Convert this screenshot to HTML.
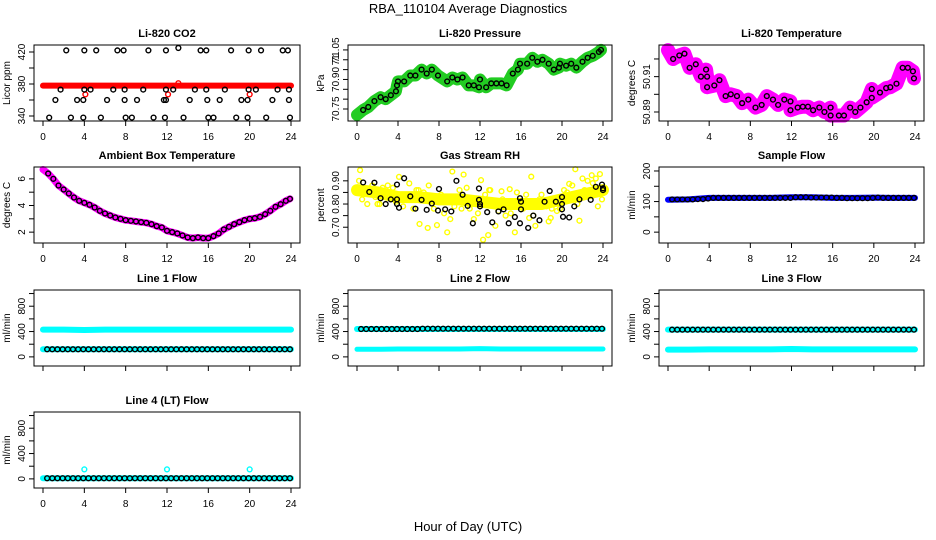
<!DOCTYPE html>
<html><head><meta charset="utf-8"><style>
html,body{margin:0;padding:0;background:#fff;}
svg{display:block;font-family:"Liberation Sans",sans-serif;}
</style></head><body>
<svg id="fig" width="936" height="540" viewBox="0 0 936 540">
<text x="468" y="13" text-anchor="middle" font-size="13">RBA_110104  Average Diagnostics</text>
<text x="468" y="531" text-anchor="middle" font-size="13">Hour of Day (UTC)</text>
</svg>
<script>
// ---------- data ----------
const xTicks = [0,4,8,12,16,20,24];
const H48 = [0.4,0.9,1.4,1.9,2.4,2.9,3.4,3.9,4.4,4.9,5.4,5.9,6.4,6.9,7.4,7.9,8.4,8.9,9.4,9.9,10.4,10.9,11.4,11.9,12.4,12.9,13.4,13.9,14.4,14.9,15.4,15.9,16.4,16.9,17.4,17.9,18.4,18.9,19.4,19.9,20.4,20.9,21.4,21.9,22.4,22.9,23.4,23.9];
const HB = [0,2,4,6,8,10,12,14,16,18,20,22,24];

// CO2
const co2BandV = [378,378,378,378,378,378,378,378,378,378,378,378,378];
const co2H = [2.25,4,5.15,7.2,7.8,10.2,11.9,13.1,15.25,15.8,18.2,19.9,21.1,23.2,23.7, 1.7,4,4.6,6.8,7.9,9.7,11.9,12.6,14.7,15.8,17.6,19.9,20.6,22.7,23.8, 1.2,3.3,3.9,6.2,7.9,9.1,11.7,11.9,14.2,15.9,17.1,19.2,19.8,22.2,23.8, 0.6,2.7,3.9,5.6,8,8.6,10.7,11.8,13.6,16,16.5,18.7,19.8,21.6,23.9];
const co2V = [422,422,422,422,422,422,422,425,422,422,422,422,422,422,422, 373,373,373,373,373,373,373,373,373,373,373,373,373,373,373, 360,360,360,360,360,360,360,360,360,360,360,360,360,360,360, 338,338,338,338,338,338,338,338,338,338,338,338,338,338,338];
const co2RedH = [4.1,12.1,13.1,20];
const co2RedV = [367,367,381,367];

// Pressure
const presH = [0.6,1.1,1.7,2.3,2.8,3.3,3.8,3.9,4.0,4.6,5.2,5.7,6.3,6.8,7.3,7.9,8.8,9.3,9.8,10.3,10.9,11.4,11.9,12.0,12.6,13.1,13.6,14.1,14.6,15.2,15.7,15.9,16.6,17.1,17.6,18.1,18.7,19.2,19.7,19.8,20.4,20.9,21.4,22.0,22.5,23.0,23.6,23.8];
const presV = [70.745,70.76,70.79,70.81,70.80,70.82,70.84,70.87,70.89,70.89,70.92,70.92,70.95,70.93,70.95,70.92,70.89,70.91,70.90,70.91,70.87,70.87,70.86,70.90,70.86,70.88,70.88,70.88,70.87,70.93,70.95,70.98,70.98,71.01,70.99,71.00,70.98,70.95,70.96,70.98,70.97,70.98,70.96,70.99,71.01,71.02,71.04,71.05];

// Li-820 temperature
const tempH = [0.5,1.1,1.6,2.1,2.7,3.2,3.8,3.7,3.8,4.5,5.0,5.6,6.1,6.7,7.2,7.8,8.5,9.1,9.6,10.2,10.7,11.3,11.9,11.9,12.6,13.1,13.6,14.1,14.7,15.2,15.8,15.8,16.6,17.1,17.7,18.2,18.7,19.3,19.8,19.8,20.6,21.2,21.6,22.2,22.8,23.3,23.8,23.9];
const tempV = [50.920,50.922,50.923,50.915,50.917,50.910,50.910,50.914,50.904,50.905,50.908,50.899,50.900,50.899,50.895,50.897,50.8925,50.894,50.899,50.897,50.894,50.897,50.896,50.891,50.8925,50.893,50.893,50.891,50.8925,50.890,50.8925,50.888,50.888,50.888,50.8925,50.890,50.8925,50.8955,50.903,50.898,50.901,50.9035,50.904,50.906,50.915,50.915,50.913,50.909];

// Ambient box temperature
const ambH = [0,0.5,1,1.5,2,2.5,3,3.5,4,4.5,5,5.5,6,6.5,7,7.5,8,8.5,9,9.5,10,10.5,11,11.5,12,12.5,13,13.5,14,14.5,15,15.5,16,16.5,17,17.5,18,18.5,19,19.5,20,20.5,21,21.5,22,22.5,23,23.5,23.9];
const ambV = [6.7,6.4,6.0,5.5,5.2,4.9,4.6,4.35,4.2,4.05,3.85,3.6,3.4,3.25,3.1,3.0,2.9,2.85,2.8,2.75,2.7,2.6,2.45,2.35,2.1,2.0,1.9,1.75,1.6,1.55,1.6,1.55,1.55,1.7,1.9,2.2,2.4,2.6,2.75,2.9,3.0,3.05,3.15,3.35,3.6,3.9,4.1,4.35,4.5];

// Gas stream RH
const rhBandV = [0.86,0.85,0.83,0.83,0.82,0.82,0.81,0.80,0.80,0.80,0.82,0.84,0.86];
const rhH = [0.6,1.2,1.7,2.3,2.8,3.3,3.9,3.9,3.9,4.1,4.6,5.2,5.7,6.3,6.8,7.3,7.9,8.0,8.6,9.2,9.7,10.3,10.8,11.3,11.9,11.9,12.0,12.0,12.7,13.2,13.8,14.3,14.8,15.4,15.9,16.0,16.0,15.9,16.7,17.2,17.8,18.3,18.8,19.4,20.0,20.0,20.0,20.1,20.7,21.2,21.7,22.8,23.3,23.9,24,24];
const rhV = [0.893,0.852,0.892,0.825,0.80,0.82,0.884,0.82,0.80,0.784,0.911,0.833,0.78,0.818,0.775,0.802,0.772,0.865,0.777,0.768,0.90,0.84,0.792,0.717,0.867,0.818,0.80,0.79,0.765,0.721,0.768,0.777,0.717,0.744,0.825,0.81,0.777,0.717,0.697,0.75,0.73,0.81,0.856,0.81,0.83,0.80,0.777,0.745,0.742,0.79,0.82,0.818,0.874,0.884,0.868,0.86];
const rhYH = [0.3,2.5,4.1,5.1,6.1,6.9,7.8,8.8,9.3,10.4,12.1,12.3,12.8,14.1,14.9,15.4,17.0,17.4,18.9,20.7,21.3,22.0,21.7,22.9,23.7,23.5,9.1,11.4,13.5,18.7,0.2,1.0,3.0,5.5,7.0,8.5,10.0,11.0,13.0,15.0,16.5,19.5,21.0,22.5,23.9,2.0,6.5,9.5,14.5,17.8,20.2,23.0,0.5,1.5,2.2,3.5,4.5,6.0,7.5,8.2,10.7,11.8,12.5,13.8,15.6,16.2,17.2,18.0,19.0,20.5,21.5,22.2,23.3,1.8,3.8,5.8,7.2,9.0,10.2,12.9,14.2,16.8,18.5,19.8,22.7];
const rhYV = [0.946,0.87,0.917,0.889,0.714,0.697,0.709,0.678,0.94,0.927,0.903,0.646,0.666,0.855,0.864,0.678,0.918,0.706,0.74,0.887,0.95,0.91,0.728,0.924,0.929,0.79,0.735,0.735,0.706,0.725,0.90,0.80,0.88,0.78,0.88,0.76,0.86,0.78,0.86,0.76,0.84,0.77,0.88,0.90,0.82,0.80,0.85,0.79,0.75,0.82,0.86,0.89,0.82,0.88,0.80,0.87,0.79,0.86,0.78,0.84,0.87,0.76,0.84,0.77,0.85,0.78,0.75,0.84,0.78,0.85,0.80,0.86,0.91,0.83,0.81,0.86,0.83,0.81,0.78,0.86,0.82,0.74,0.79,0.78,0.84];

// Sample flow
const sfBandV = [106,107,112,112,112,112,114,114,112,112,113,112,112];
const sfV = [107,107,107,107,107,108,108,110,112,112,112,112,112,112,112,112,112,112,112,112,112,112,112,112,114,114,114,113,113,113,113,113,112,112,111,111,111,111,111,112,113,112,112,112,112,112,112,112];

// Line 1-4 flows
const l1TopV = [430,430,425,430,430,430,430,430,430,430,430,430,430];
const l1BotV = [120,120,120,120,120,120,120,120,120,120,120,120,120];
const l1BlackV = [120,120,120,120,120,120,120,120,120,120,120,120,120,120,120,120,120,120,120,120,120,120,120,120,120,120,120,120,120,120,120,120,120,120,120,120,120,120,120,120,120,120,120,120,120,120,120,120];
const l2TopV = [440,440,440,440,440,440,440,440,440,440,440,440,440];
const l2BotV = [120,120,125,125,125,125,130,125,125,125,125,125,125];
const l2BlackV = [440,440,440,440,440,440,440,440,440,440,440,440,445,445,445,445,445,445,445,445,445,445,445,445,445,445,445,445,445,445,445,445,445,445,445,445,445,445,445,445,445,445,445,445,445,445,445,445];
const l3TopV = [430,430,430,430,430,430,430,430,430,430,430,430,430];
const l3BotV = [115,115,118,118,118,118,125,118,118,118,118,118,118];
const l3BlackV = [430,430,430,430,430,430,430,430,430,430,430,430,430,430,430,430,430,430,430,430,430,430,430,430,430,430,430,430,430,430,430,430,430,430,430,430,430,430,430,430,430,430,430,430,430,430,430,430];
const l4BandV = [10,10,10,10,10,10,10,10,10,10,10,10,10];
const l4BlackV = [10,10,10,10,10,10,10,10,10,10,10,10,10,10,10,10,10,10,10,10,10,10,10,10,10,10,10,10,10,10,10,10,10,10,10,10,10,10,10,10,10,10,10,10,10,10,10,10];
const l4OutH = [4,12,20];
const l4OutV = [150,150,150];

const flowTicks = [0,200,400,600,800,1000];
const flowLabels = ['0','','400','','800',''];

// ---------- drawing ----------
const NS = 'http://www.w3.org/2000/svg';
const svg = document.getElementById('fig');
function mk(tag, attrs, parent){ const e = document.createElementNS(NS, tag); for (const k in attrs) e.setAttribute(k, attrs[k]); (parent||svg).appendChild(e); return e; }

const cols = [[34,266],[348,264],[659,265]];
const rows = [45,167,290,412];
const PH = 76;

function panel(name, col, row, ylim, yt, yl, ylab, title){
  const [x0,w] = cols[col]; const y0 = rows[row];
  const g = mk('g', {});
  
  
  const sx = h => x0 + 9 + h*(w-18)/24;
  const sy = v => y0 + PH - (v - ylim[0])/(ylim[1]-ylim[0])*PH;
  const t = mk('text', {x: x0 + w/2, y: y0 - 8, 'text-anchor':'middle', 'font-size':'11', 'font-weight':'bold'}, g);
  t.textContent = title;
  
  
  const marks = mk('g', {}, g);
  
  
  const box = mk('rect', {x:x0, y:y0, width:w, height:PH, fill:'none', stroke:'#000', 'stroke-width':'1'}, g);
  
  
  const xa = mk('g', {}, g);
  
  
  xTicks.forEach(v => {
    mk('line', {x1:sx(v), x2:sx(v), y1:y0+PH, y2:y0+PH+5, stroke:'#000'}, xa);
    if (row !== 2) { const tx = mk('text', {x:sx(v), y:y0+PH+19, 'text-anchor':'middle', 'font-size':'10'}, xa); tx.textContent = v; }
  });
  const ya = mk('g', {}, g);
  
  
  yt.forEach((v,i) => {
    mk('line', {x1:x0-5, x2:x0, y1:sy(v), y2:sy(v), stroke:'#000'}, ya);
    if (yl[i] !== '') { const ty = mk('text', {x:x0-9, y:sy(v), 'text-anchor':'middle', 'font-size':'10', transform:`rotate(-90 ${x0-9} ${sy(v)})`}, ya); ty.textContent = yl[i]; }
  });
  const lb = mk('text', {x:x0-24, y:y0+PH/2, 'text-anchor':'middle', 'font-size':'10', transform:`rotate(-90 ${x0-24} ${y0+PH/2})`}, g);
  lb.textContent = ylab;
  
  
  return {sx, sy, marks};
}
function band(p, hs, vs, color, width, name){
  const pts = hs.map((h,i) => p.sx(h).toFixed(1) + ',' + p.sy(vs[i]).toFixed(1)).join(' ');
  const e = mk('polyline', {points:pts, fill:'none', stroke:color, 'stroke-width':width, 'stroke-linecap':'round', 'stroke-linejoin':'round'}, p.marks);
  
  
}
function pts(p, hs, vs, color, name, r){
  const g = mk('g', {}, p.marks);
  
  
  hs.forEach((h,i) => { mk('circle', {cx:p.sx(h), cy:p.sy(vs[i]), r:r||2.4, fill:'none', stroke:color, 'stroke-width':'1.4'}, g); });
}

// CO2
let p = panel('co2', 0, 0, [333.75,428.75], [340,360,380,400,420], ['340','','380','','420'], 'Licor ppm', 'Li-820 CO2');
band(p, HB, co2BandV, '#ff0000', 6, 'co2-red-band');
pts(p, co2RedH, co2RedV, '#ff0000', 'co2-red-points');
pts(p, co2H, co2V, '#000', 'co2-black-points');

// Pressure
p = panel('pressure', 1, 0, [70.689,71.075], [70.75,70.80,70.85,70.90,70.95,71.00,71.05], ['70.75','','','70.90','','71','71.05'], 'kPa', 'Li-820 Pressure');
band(p, [0].concat(presH), [70.72].concat(presV), '#22cc22', 12, 'pressure-green-band');
pts(p, presH, presV, '#000', 'pressure-black-points');

// Temperature
p = panel('temperature', 2, 0, [50.8849,50.9279], [50.89,50.90,50.91,50.92], ['50.89','','50.91',''], 'degrees C', 'Li-820 Temperature');
band(p, [0].concat(tempH), [50.925].concat(tempV), '#ff00ff', 14, 'temperature-magenta-band');
pts(p, tempH, tempV, '#000', 'temperature-black-points');

// Ambient
p = panel('ambient', 0, 1, [1.185,6.89], [2,3,4,5,6], ['2','','4','','6'], 'degrees C', 'Ambient Box Temperature');
band(p, ambH, ambV, '#ff00ff', 7, 'ambient-magenta-band');
pts(p, ambH.slice(1), ambV.slice(1), '#000', 'ambient-black-points');

// RH
p = panel('rh', 1, 1, [0.632,0.9596], [0.70,0.75,0.80,0.85,0.90], ['0.70','','0.80','','0.90'], 'percent', 'Gas Stream RH');
band(p, HB, rhBandV, '#ffff00', 12, 'rh-yellow-band');
pts(p, rhYH, rhYV, '#ffff00', 'rh-yellow-points');
pts(p, rhH, rhV, '#000', 'rh-black-points');

// Sample flow
p = panel('sample-flow', 2, 1, [-35.5,213], [0,50,100,150,200], ['0','','100','','200'], 'ml/min', 'Sample Flow');
band(p, HB, sfBandV, '#0000ff', 6, 'sample-flow-blue-band');
pts(p, H48, sfV, '#000', 'sample-flow-black-points');

// Line flows
const FL = [-144,1056];
p = panel('line1-flow', 0, 2, FL, flowTicks, flowLabels, 'ml/min', 'Line 1 Flow');
band(p, HB, l1TopV, '#00ffff', 6, 'line1-cyan-top-band');
band(p, HB, l1BotV, '#00ffff', 6, 'line1-cyan-bottom-band');
pts(p, H48, l1BlackV, '#000', 'line1-black-points');

p = panel('line2-flow', 1, 2, FL, flowTicks, flowLabels, 'ml/min', 'Line 2 Flow');
band(p, HB, l2TopV, '#00ffff', 6, 'line2-cyan-top-band');
band(p, HB, l2BotV, '#00ffff', 5, 'line2-cyan-bottom-band');
pts(p, H48, l2BlackV, '#000', 'line2-black-points');

p = panel('line3-flow', 2, 2, FL, flowTicks, flowLabels, 'ml/min', 'Line 3 Flow');
band(p, HB, l3TopV, '#00ffff', 6, 'line3-cyan-top-band');
band(p, HB, l3BotV, '#00ffff', 6, 'line3-cyan-bottom-band');
pts(p, H48, l3BlackV, '#000', 'line3-black-points');

p = panel('line4-flow', 0, 3, FL, flowTicks, flowLabels, 'ml/min', 'Line 4 (LT) Flow');
band(p, HB, l4BandV, '#00ffff', 6, 'line4-cyan-band');
pts(p, l4OutH, l4OutV, '#00ffff', 'line4-cyan-outliers');
pts(p, H48, l4BlackV, '#000', 'line4-black-points');
</script>
</body></html>
